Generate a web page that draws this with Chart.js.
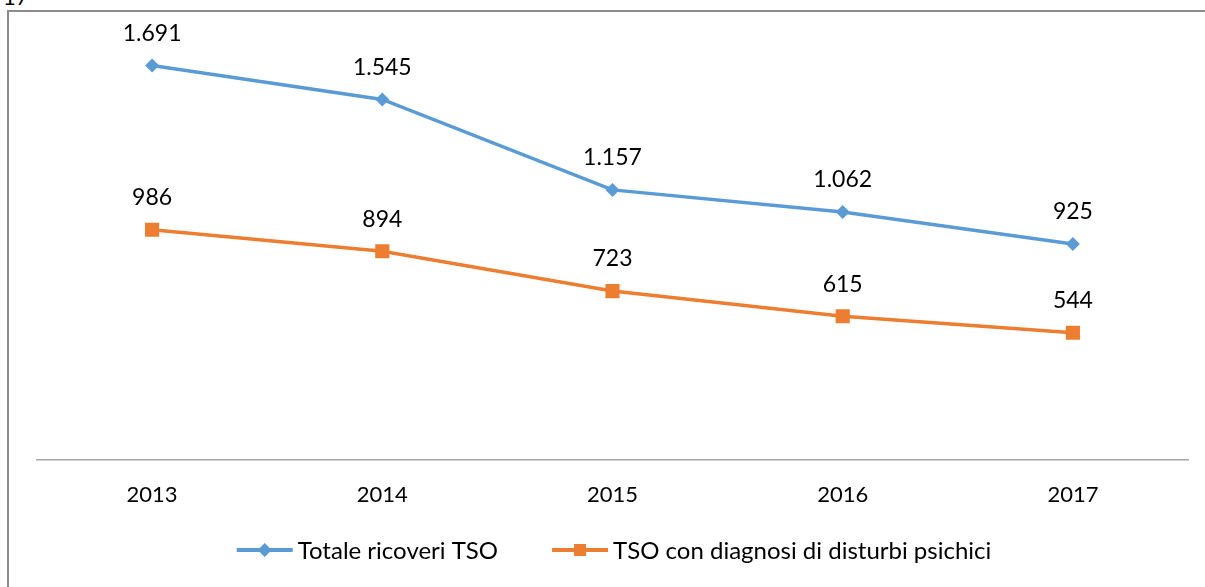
<!DOCTYPE html>
<html>
<head>
<meta charset="utf-8">
<script src="https://cdn.jsdelivr.net/npm/chart.js@4"></script>
<style>
  html, body { margin: 0; padding: 0; background: #fff; }
  #wrap { position: relative; width: 1205px; height: 587px; overflow: hidden; }
  #frame { position: absolute; left: 7px; top: 10px; width: 1210px; height: 590px;
           border-left: 2px solid #8c8c8c; border-top: 2px solid #8c8c8c; pointer-events: none; }
  #cut { position: absolute; left: 3px; top: -17px; font: 22px Lato, sans-serif; color: #000; }
  canvas { position: absolute; left: 0; top: 0; }
</style>
</head>
<body>
<div id="wrap">
  <div id="cut">17</div>
  <canvas id="chart" width="1205" height="587"></canvas>
  <div id="frame"></div>
</div>
<script>
const years = ["2013", "2014", "2015", "2016", "2017"];
const totale = [1691, 1545, 1157, 1062, 925];
const psichici = [986, 894, 723, 615, 544];
const names = ["Totale ricoveri TSO", "TSO con diagnosi di disturbi psichici"];

const BLUE = "#5b9bd5";
const ORANGE = "#ed7d31";
const FONT = "Lato, 'Liberation Sans', sans-serif";

function fmt(n) {
    return String(n).replace(/\B(?=(\d{3})+(?!\d))/g, ".");
}

const valueLabels = {
    id: "valueLabels",
    afterDatasetsDraw(chart) {
        let ctx = chart.ctx;
        ctx.save();
        ctx.font = "23px " + FONT;
        ctx.fillStyle = "#000";
        ctx.textAlign = "center";
        ctx.textBaseline = "middle";
        chart.data.datasets.forEach((ds, i) => {
            chart.getDatasetMeta(i).data.forEach((pt, j) => {
                ctx.fillText(fmt(ds.data[j]), pt.x, pt.y - 32);
            });
        });
        ctx.restore();
    }
};

// legend: line with marker, then label, the whole row centred
const lineLegend = {
    id: "lineLegend",
    afterDraw(chart) {
        let ctx = chart.ctx;
        let y = 550, lineLen = 56, gap = 5, spacing = 54;
        ctx.save();
        ctx.font = "24px " + FONT;
        ctx.textBaseline = "middle";
        ctx.textAlign = "left";
        let widths = chart.data.datasets.map(ds => lineLen + gap + ctx.measureText(ds.label).width);
        let total = widths.reduce((a, b) => a + b, 0) + spacing * (widths.length - 1);
        let x = 614 - total / 2;
        chart.data.datasets.forEach((ds, i) => {
            ctx.strokeStyle = ds.borderColor;
            ctx.fillStyle = ds.borderColor;
            ctx.lineWidth = 4;
            ctx.beginPath();
            ctx.moveTo(x, y);
            ctx.lineTo(x + lineLen, y);
            ctx.stroke();
            let cx = x + lineLen / 2;
            ctx.beginPath();
            if (ds.pointStyle == "rectRot") {
                ctx.moveTo(cx, y - 7);
                ctx.lineTo(cx + 7, y);
                ctx.lineTo(cx, y + 7);
                ctx.lineTo(cx - 7, y);
            } else {
                ctx.rect(cx - 6, y - 6, 12, 12);
            }
            ctx.fill();
            ctx.fillStyle = "#000";
            ctx.fillText(ds.label, x + lineLen + gap, y + 1);
            x += widths[i] + spacing;
        });
        ctx.restore();
    }
};

new Chart(document.getElementById("chart").getContext("2d"), {
    type: "line",
    data: {
        labels: years,
        datasets: [{
            label: names[0],
            data: totale,
            borderColor: BLUE,
            backgroundColor: BLUE,
            borderWidth: 3.5,
            pointStyle: "rectRot",
            pointRadius: 7,
            pointBorderWidth: 0,
            tension: 0
        }, {
            label: names[1],
            data: psichici,
            borderColor: ORANGE,
            backgroundColor: ORANGE,
            borderWidth: 3.5,
            pointStyle: "rect",
            pointRadius: 10,
            pointBorderWidth: 0,
            tension: 0
        }]
    },
    options: {
        responsive: false,
        animation: false,
        layout: { padding: { left: 37, right: 17, top: 40, bottom: 57 } },
        scales: {
            x: {
                offset: true,
                grid: { display: false, drawTicks: false },
                border: { display: true, color: "#a6a6a6", width: 1.5 },
                ticks: { color: "#000", font: { family: FONT, size: 22 }, padding: 22 }
            },
            y: {
                display: false,
                min: 0,
                max: 1800
            }
        },
        plugins: {
            tooltip: { enabled: false },
            legend: { display: false }
        }
    },
    plugins: [valueLabels, lineLegend]
});
</script>
</body>
</html>
